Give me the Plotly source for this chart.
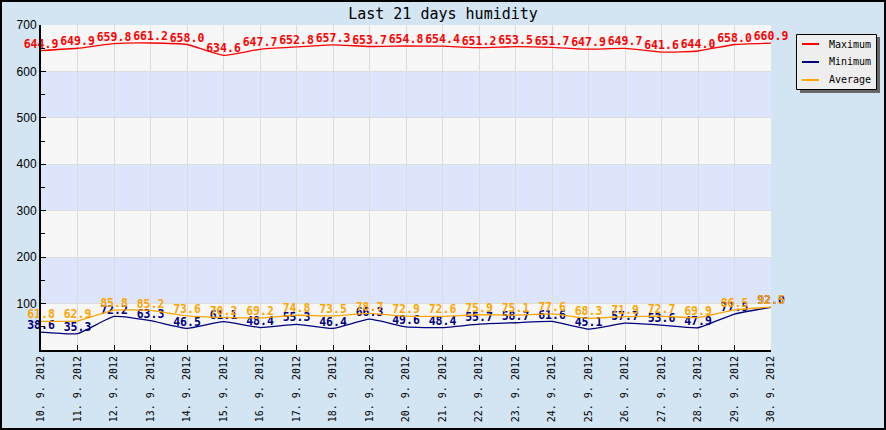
import plotly.graph_objects as go

dates = ["10. 9. 2012", "11. 9. 2012", "12. 9. 2012", "13. 9. 2012", "14. 9. 2012",
         "15. 9. 2012", "16. 9. 2012", "17. 9. 2012", "18. 9. 2012", "19. 9. 2012",
         "20. 9. 2012", "21. 9. 2012", "22. 9. 2012", "23. 9. 2012", "24. 9. 2012",
         "25. 9. 2012", "26. 9. 2012", "27. 9. 2012", "28. 9. 2012", "29. 9. 2012",
         "30. 9. 2012"]
maximum = [644.9, 649.9, 659.8, 661.2, 658.0, 634.6, 647.7, 652.8, 657.3, 653.7,
           654.8, 654.4, 651.2, 653.5, 651.7, 647.9, 649.7, 641.6, 644.0, 658.0, 660.9]
minimum = [38.6, 35.3, 72.2, 63.3, 46.5, 61.1, 48.4, 55.3, 46.4, 66.3,
           49.6, 48.4, 55.7, 58.7, 61.6, 45.1, 57.7, 53.6, 47.9, 77.5, 92.0]
average = [61.8, 62.9, 85.8, 85.2, 73.6, 70.2, 69.2, 74.8, 73.5, 78.7,
           72.9, 72.6, 75.9, 75.1, 77.6, 68.3, 71.9, 72.7, 69.9, 86.5, 92.5]
series_names = ["Maximum", "Minimum", "Average"]
series_colors = ["#ff0000", "#000080", "#ffa500"]
y_ticks = [100, 200, 300, 400, 500, 600, 700]
bands = [(100, 200), (300, 400), (500, 600)]

xs = list(range(len(dates)))
mono = "DejaVu Sans Mono"

W, H = 886, 430
L, R, T, B = 41, 115, 25, 80
PW, PH = W - L - R, H - T - B


def px(x):
    return (x - L) / PW


def py(y):
    return (H - B - y) / PH


fig = go.Figure()
for name, vals, col in zip(series_names, [maximum, minimum, average], series_colors):
    fig.add_trace(go.Scatter(
        x=xs, y=vals, name=name, mode="lines+text",
        line=dict(color=col, width=1.3, shape="spline", smoothing=0.4),
        text=[f"{v:.1f}" for v in vals], textposition="top center",
        textfont=dict(family=mono, size=11.5, color=col, weight="bold"),
        cliponaxis=False, showlegend=False,
    ))

shapes = []
for lo, hi in bands:
    shapes.append(dict(type="rect", xref="paper", yref="y", x0=0, x1=1, y0=lo, y1=hi,
                       fillcolor="#dde5fd", line=dict(width=0), layer="below"))
# legend shadow + box
shapes.append(dict(type="rect", xref="paper", yref="paper",
                   x0=px(800), x1=px(880), y0=py(93), y1=py(37),
                   fillcolor="#666666", line=dict(width=0)))
shapes.append(dict(type="rect", xref="paper", yref="paper",
                   x0=px(796.5), x1=px(876.5), y0=py(89.5), y1=py(34.5),
                   fillcolor="#eeeeee", line=dict(color="black", width=1)))
annotations = []
for i, (name, col) in enumerate(zip(series_names, series_colors)):
    yy = 44 + 18 * i
    shapes.append(dict(type="line", xref="paper", yref="paper",
                       x0=px(802), x1=px(819), y0=py(yy), y1=py(yy),
                       line=dict(color=col, width=2)))
    annotations.append(dict(xref="paper", yref="paper", x=px(827), y=py(yy),
                            xanchor="left", yanchor="middle", showarrow=False,
                            text=name, font=dict(family=mono, size=10, color="black")))
# outer border
shapes.append(dict(type="rect", xref="paper", yref="paper",
                   x0=px(1), x1=px(885), y0=py(429), y1=py(1),
                   line=dict(color="black", width=2), fillcolor="rgba(0,0,0,0)"))

fig.update_layout(
    width=W, height=H,
    margin=dict(l=L, r=R, t=T, b=B, autoexpand=False),
    paper_bgcolor="#d3e4f2", plot_bgcolor="#f7f7f7",
    title=dict(text="Last 21 days humidity", x=0.5, xref="container", xanchor="center",
               y=1 - 14 / H, yref="container", yanchor="middle",
               font=dict(family=mono, size=15, color="black")),
    showlegend=False,
    shapes=shapes,
    annotations=annotations,
    xaxis=dict(range=[0, 20], tickvals=xs, ticktext=dates, tickangle=-90,
               tickfont=dict(family=mono, size=10, color="black"),
               showgrid=True, gridcolor="#dddddd", gridwidth=1,
               ticks="inside", ticklen=5, tickcolor="black", automargin=False,
               showline=True, linecolor="black", linewidth=2, zeroline=False),
    yaxis=dict(range=[0, 700], tickvals=y_ticks, automargin=False,
               tickfont=dict(family="Liberation Sans", size=12, color="black"),
               showgrid=True, gridcolor="#dddddd", gridwidth=1,
               ticks="inside", ticklen=5, tickcolor="black",
               minor=dict(tickvals=[50, 150, 250, 350, 450, 550, 650], ticks="inside",
                          ticklen=4, tickcolor="black", showgrid=False),
               showline=True, linecolor="black", linewidth=2, zeroline=False),
)
fig.write_html("out.html", post_script="document.body.style.margin='0';",
               config={"displayModeBar": False})
